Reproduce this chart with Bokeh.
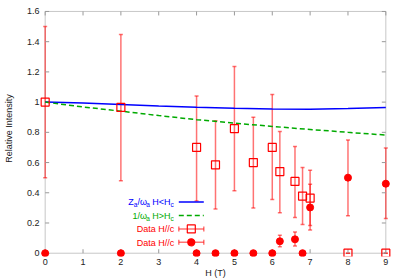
from math import pi
from bokeh.plotting import figure
from bokeh.models import (Range1d, LinearAxis, FixedTicker, ColumnDataSource,
                          Whisker, TeeHead, BoxAnnotation)
from bokeh.core.properties import value
from bokeh.embed import file_html
from bokeh.resources import INLINE

# ---------------- data ----------------
curve_h = [0, 1, 2, 3, 4, 5, 6, 7, 8, 9]
za_wa = [1.0, 0.994, 0.985, 0.975, 0.966, 0.959, 0.954, 0.952, 0.957, 0.964]
inv_wa = [1.0, 0.968, 0.940, 0.911, 0.884, 0.861, 0.839, 0.819, 0.800, 0.782]

sq_h = [0, 2, 4, 4.5, 5, 5.5, 6, 6.2, 6.6, 6.8, 7, 8, 9]
sq_y = [1.0, 0.965, 0.70, 0.585, 0.825, 0.60, 0.70, 0.54, 0.475, 0.378, 0.365, 0, 0]
sq_lo = [0.50, 0.48, 0.345, 0.292, 0.413, 0.30, 0.356, 0.268, 0.237, 0.19, 0.183, 0, 0]
sq_hi = [1.50, 1.448, 1.04, 0.877, 1.235, 0.90, 1.05, 0.806, 0.707, 0.567, 0.457, 0, 0]

ci_h = [0, 2, 4, 4.5, 5, 5.5, 6, 6.2, 6.6, 6.8, 7, 8, 9]
ci_y = [0, 0, 0, 0, 0, 0, 0, 0.079, 0.092, 0, 0.303, 0.50, 0.46]
ci_lo = [0, 0, 0, 0, 0, 0, 0, 0.042, 0.048, 0, 0.154, 0.248, 0.23]
ci_hi = [0, 0, 0, 0, 0, 0, 0, 0.119, 0.14, 0, 0.549, 0.75, 0.697]

x_ticks = [0, 1, 2, 3, 4, 5, 6, 7, 8, 9]
y_ticks = [0, 0.2, 0.4, 0.6, 0.8, 1, 1.2, 1.4, 1.6]
y_tick_labels = ["0", "0.2", "0.4", "0.6", "0.8", "1", "1.2", "1.4", "1.6"]

x_title = "H (T)"
y_title = "Relative Intensity"

# ---------------- styling / geometry ----------------
FONT = "Liberation Sans"
BLUE = "#0000ff"
GREEN = "#00aa00"
RED = "#ff0000"
FRAME = "#444444"
TICK = "#999999"
LABEL = "#222222"

W, H = 400, 280
BL, BR, BT, BB = 39, 9, 0, 23
XMIN, XMAX, YMIN, YMAX = 0, 9, 0, 1.6
X0, X1 = -0.15, 9.15
PXX = (W - BL - BR) / (X1 - X0)
Y_ZERO_PX, Y_TOP_PX = 253.7, 11.0          # page rows of y=0 and y=1.6
PXY = (Y_ZERO_PX - Y_TOP_PX) / (YMAX - YMIN)
Y1 = YMAX + (Y_TOP_PX - BT) / PXY
Y0 = YMIN - ((H - BB) - Y_ZERO_PX) / PXY


def dx(px_):
    return px_ / PXX


def dy(px_):
    return px_ / PXY


def data_x(page_x):
    return X0 + (page_x - BL) / PXX


def data_y(page_y):
    return Y1 - (page_y - BT) / PXY


p = figure(width=W, height=H, x_range=Range1d(X0, X1), y_range=Range1d(Y0, Y1),
           output_backend="svg", toolbar_location=None,
           x_axis_location=None, y_axis_location=None,
           min_border_left=BL, min_border_right=BR,
           min_border_top=BT, min_border_bottom=BB)
p.outline_line_color = None
for g in p.grid:
    g.visible = False


def style_axis(ax, standoff, title, title_standoff):
    ax.major_tick_in = 0
    ax.major_tick_out = 0
    ax.minor_tick_in = 0
    ax.minor_tick_out = 0
    ax.axis_line_color = None
    ax.major_tick_line_color = None
    ax.minor_tick_line_color = None
    ax.major_label_text_font = FONT
    ax.major_label_text_color = LABEL
    ax.major_label_text_font_size = "9px"
    ax.major_label_standoff = standoff
    ax.axis_label = title
    ax.axis_label_text_font = FONT
    ax.axis_label_text_font_size = "9px"
    ax.axis_label_text_font_style = "normal"
    ax.axis_label_text_color = LABEL
    ax.axis_label_standoff = title_standoff


xb = LinearAxis(ticker=FixedTicker(ticks=x_ticks))
style_axis(xb, 2, x_title, 0)
p.add_layout(xb, "below")

yl = LinearAxis(ticker=FixedTicker(ticks=y_ticks),
                major_label_overrides=dict(zip(y_ticks, y_tick_labels)))
style_axis(yl, 0, y_title, 10)
p.add_layout(yl, "left")

# plot box and inward ticks
p.add_layout(BoxAnnotation(left=XMIN, right=XMAX, bottom=YMIN, top=YMAX,
                           fill_alpha=0, line_color=FRAME, line_width=1, level="underlay"))
n_x, n_y = len(x_ticks), len(y_ticks)
p.segment(x0=x_ticks, y0=[YMIN] * n_x, x1=x_ticks, y1=[YMIN + dy(4)] * n_x,
          line_color=TICK, line_width=1)
p.segment(x0=x_ticks, y0=[YMAX] * n_x, x1=x_ticks, y1=[YMAX - dy(4)] * n_x,
          line_color=TICK, line_width=1)
p.segment(x0=[XMIN] * n_y, y0=y_ticks, x1=[XMIN + dx(4)] * n_y, y1=y_ticks,
          line_color=TICK, line_width=1)
p.segment(x0=[XMAX] * n_y, y0=y_ticks, x1=[XMAX - dx(4)] * n_y, y1=y_ticks,
          line_color=TICK, line_width=1)

# curves
p.line(curve_h, za_wa, line_color=BLUE, line_width=1.5)
p.line(curve_h, inv_wa, line_color=GREEN, line_width=1.5, line_dash="5 3")


# error bars
def add_whisker(src):
    head = dict(size=4, line_color=RED, line_alpha=0.55, line_width=1.5)
    p.add_layout(Whisker(source=src, base="h", upper="hi", lower="lo",
                         dimension="height", line_color=RED, line_alpha=0.55,
                         line_width=1.5, upper_head=TeeHead(**head),
                         lower_head=TeeHead(**head)))


sq_src = ColumnDataSource(dict(h=sq_h, y=sq_y, lo=sq_lo, hi=sq_hi))
ci_src = ColumnDataSource(dict(h=ci_h, y=ci_y, lo=ci_lo, hi=ci_hi))
add_whisker(sq_src)
add_whisker(ci_src)

p.scatter("h", "y", source=sq_src, marker="square", size=8, fill_color=None,
          line_color=RED, line_width=1.2)
p.scatter("h", "y", source=ci_src, marker="circle", size=7, fill_color=RED,
          line_color=RED)

# ---------------- manual legend ----------------
RIGHT_PX = 173.3
ROW0_PX = 202.3
ROW = 13.5
MAIN, SUB = 9, 6.5
ax_ = data_x(RIGHT_PX)
ay_ = data_y(ROW0_PX)


def row_y(r):
    return ay_ - dy(r * ROW)


def text_pieces(pieces, r, color):
    # pieces: (text, advance_px, is_sub); laid out left to right, ending at anchor
    total = sum(w for _, w, _ in pieces)
    off = -total
    for txt, wpx, is_sub in pieces:
        p.text(x=[ax_], y=[ay_], text=[txt], x_offset=off,
               y_offset=r * ROW + (2.5 if is_sub else 0),
               text_align="left", text_baseline="middle",
               text_font=value(FONT),
               text_font_size=value(f"{SUB if is_sub else MAIN}px"),
               text_color=color)
        off += wpx


text_pieces([("Z", 5.5, False), ("a", 3.6, True), ("/\u03c9", 8.75, False),
             ("a", 6.1, True), ("H<H", 18.25, False), ("c", 3.25, True)], 0, BLUE)
text_pieces([("1/\u03c9", 13.75, False), ("a", 6.1, True), ("H>H", 18.25, False),
             ("c", 3.25, True)], 1, GREEN)
text_pieces([("Data H//c", 37.0, False)], 2, RED)
text_pieces([("Data H//c", 37.0, False)], 3, RED)

sx0 = ax_ + dx(5)
sx1 = ax_ + dx(30)
sxm = (sx0 + sx1) / 2
p.segment(x0=[sx0], y0=[row_y(0)], x1=[sx1], y1=[row_y(0)], line_color=BLUE, line_width=1.5)
p.segment(x0=[sx0], y0=[row_y(1)], x1=[sx1], y1=[row_y(1)], line_color=GREEN,
          line_width=1.5, line_dash="5 3")
for r, mk, fill in [(2, "square", None), (3, "circle", RED)]:
    p.segment(x0=[sx0], y0=[row_y(r)], x1=[sx1], y1=[row_y(r)], line_color=RED,
              line_alpha=0.55, line_width=1.5)
    p.scatter([sx0, sx1], [row_y(r)] * 2, marker="dash", angle=pi / 2, size=5,
              line_color=RED, line_alpha=0.55, line_width=1.5)
    p.scatter([sxm], [row_y(r)], marker=mk, size=8 if mk == "square" else 7,
              fill_color=fill, line_color=RED, line_width=1.2)

open("out.html", "w").write(file_html(p, INLINE))
